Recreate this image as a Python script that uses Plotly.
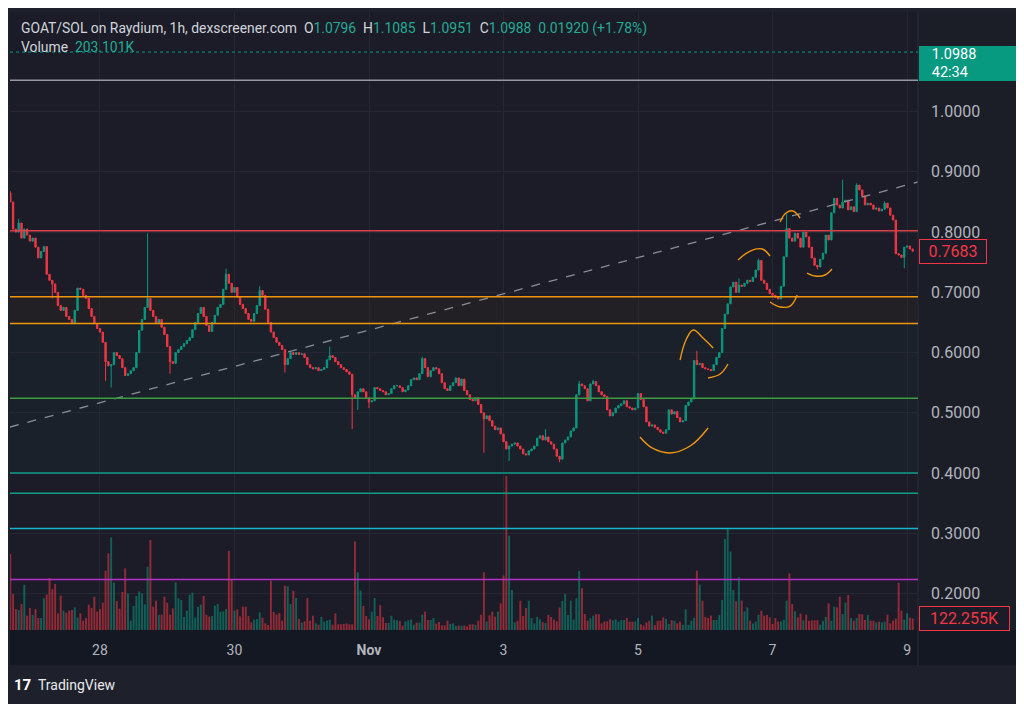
import pandas as pd
import plotly.graph_objects as go

# ---------------- data ----------------
START = "2024-10-26 16:00"
FIRST_OPEN = 0.865

closes = [
    0.850, 0.805, 0.800, 0.815, 0.790, 0.805, 0.795, 0.785, 0.790, 0.775,
    0.757, 0.768, 0.776, 0.730, 0.720, 0.714, 0.700, 0.678, 0.670, 0.675,
    0.660, 0.655, 0.648, 0.670, 0.707, 0.705, 0.695, 0.690, 0.673, 0.660,
    0.648, 0.640, 0.634, 0.617, 0.585, 0.578, 0.580, 0.600, 0.595, 0.590,
    0.575, 0.562, 0.565, 0.570, 0.575, 0.600, 0.637, 0.655, 0.675, 0.690,
    0.670, 0.660, 0.648, 0.655, 0.642, 0.630, 0.610, 0.585, 0.582, 0.600,
    0.605, 0.610, 0.615, 0.620, 0.625, 0.638, 0.650, 0.665, 0.675, 0.660,
    0.645, 0.635, 0.650, 0.662, 0.675, 0.680, 0.705, 0.730, 0.715, 0.700,
    0.708, 0.692, 0.680, 0.673, 0.665, 0.655, 0.652, 0.665, 0.678, 0.703,
    0.695, 0.672, 0.650, 0.634, 0.625, 0.617, 0.612, 0.605, 0.580, 0.590,
    0.600, 0.597, 0.600, 0.597, 0.598, 0.592, 0.580, 0.575, 0.573, 0.575,
    0.570, 0.572, 0.575, 0.588, 0.595, 0.592, 0.585, 0.580, 0.575, 0.572,
    0.568, 0.564, 0.530, 0.525, 0.535, 0.540, 0.535, 0.525, 0.518, 0.520,
    0.542, 0.540, 0.537, 0.535, 0.530, 0.532, 0.540, 0.545, 0.545, 0.542,
    0.535, 0.538, 0.545, 0.555, 0.558, 0.555, 0.565, 0.590, 0.575, 0.560,
    0.570, 0.575, 0.573, 0.565, 0.550, 0.540, 0.537, 0.545, 0.550, 0.558,
    0.545, 0.556, 0.537, 0.530, 0.522, 0.520, 0.525, 0.514, 0.500, 0.490,
    0.495, 0.487, 0.478, 0.472, 0.475, 0.465, 0.452, 0.440, 0.445, 0.448,
    0.450, 0.445, 0.440, 0.432, 0.430, 0.437, 0.440, 0.445, 0.458, 0.462,
    0.455, 0.460, 0.452, 0.448, 0.440, 0.428, 0.423, 0.450, 0.455, 0.460,
    0.470, 0.475, 0.530, 0.548, 0.545, 0.540, 0.520, 0.548, 0.552, 0.545,
    0.535, 0.530, 0.527, 0.505, 0.495, 0.500, 0.508, 0.512, 0.515, 0.520,
    0.510, 0.508, 0.505, 0.508, 0.532, 0.522, 0.510, 0.485, 0.478, 0.480,
    0.476, 0.472, 0.468, 0.466, 0.472, 0.505, 0.498, 0.502, 0.492, 0.485,
    0.487, 0.512, 0.518, 0.523, 0.587, 0.580, 0.582, 0.575, 0.573, 0.572,
    0.570, 0.580, 0.592, 0.600, 0.640, 0.664, 0.681, 0.709, 0.717, 0.700,
    0.712, 0.710, 0.715, 0.720, 0.718, 0.725, 0.737, 0.753, 0.720, 0.715,
    0.705, 0.698, 0.695, 0.692, 0.689, 0.710, 0.759, 0.806, 0.790, 0.785,
    0.798, 0.790, 0.775, 0.800, 0.792, 0.775, 0.757, 0.745, 0.742, 0.755,
    0.765, 0.795, 0.787, 0.832, 0.856, 0.845, 0.840, 0.850, 0.853, 0.837,
    0.842, 0.834, 0.878, 0.870, 0.860, 0.845, 0.848, 0.845, 0.838, 0.840,
    0.835, 0.838, 0.848, 0.840, 0.828, 0.820, 0.764, 0.762, 0.758, 0.775,
    0.777, 0.772, 0.7683,
]

# notable wicks (index -> value)
wick_highs = {0: 0.868, 3: 0.822, 49: 0.798, 77: 0.739, 89: 0.710, 114: 0.610,
              147: 0.593, 191: 0.473, 203: 0.553, 208: 0.555, 245: 0.603,
              260: 0.723, 267: 0.756, 277: 0.831, 297: 0.887, 302: 0.881, 312: 0.851}
wick_lows = {15: 0.690, 34: 0.553, 36: 0.542, 57: 0.565, 98: 0.567, 122: 0.473,
             124: 0.505, 128: 0.508, 169: 0.434, 178: 0.420, 196: 0.418,
             288: 0.738, 319: 0.740}

volumes_k = [
    798,
    378, 220, 210, 273, 476, 150, 231, 158, 220, 126,
    126, 333, 371, 546, 430, 483, 175, 361, 203, 182,
    203, 210, 238, 130, 175, 98, 126, 266, 231, 350,
    193, 220, 287, 623, 805, 973, 497, 305, 224, 399,
    648, 382, 98, 252, 357, 406, 382, 270, 665, 945,
    245, 308, 158, 161, 350, 287, 161, 228, 501, 333,
    315, 137, 203, 371, 392, 130, 242, 266, 357, 158,
    140, 147, 256, 273, 193, 196, 220, 830, 536, 203,
    217, 144, 245, 245, 147, 81, 109, 116, 186, 130,
    70, 53, 518, 189, 161, 179, 98, 466, 459, 273,
    413, 336, 116, 77, 91, 336, 98, 150, 70, 56,
    137, 88, 98, 109, 56, 175, 60, 60, 63, 70,
    60, 60, 928, 606, 413, 252, 147, 109, 193, 336,
    147, 263, 133, 74, 74, 150, 109, 102, 95, 46,
    91, 102, 109, 56, 77, 77, 161, 193, 105, 105,
    126, 67, 84, 49, 49, 98, 63, 70, 42, 46,
    46, 46, 39, 60, 60, 53, 98, 161, 606, 88,
    154, 193, 140, 193, 280, 571, 1617, 990,
    420, 80, 98, 308, 147, 231, 308, 126, 70, 137,
    112, 84, 74, 158, 137, 109, 91, 235, 305, 378,
    158, 308, 109, 333, 620, 438, 168, 98, 123, 151,
    165, 165, 70, 88, 91, 112, 102, 112, 88, 105,
    105, 126, 88, 88, 91, 126, 60, 46, 80, 98,
    151, 53, 98, 98, 133, 116, 63, 102, 98, 70,
    88, 53, 217, 53, 98, 126, 623, 476, 308, 137,
    126, 151, 105, 105, 158, 315, 956, 1061, 823, 420,
    301, 553, 308, 196, 238, 98, 67, 88, 161, 203,
    151, 158, 133, 63, 126, 88, 88, 109, 308, 595,
    273, 196, 133, 172, 102, 161, 98, 102, 102, 102,
    56, 98, 137, 280, 98, 245, 238, 350, 168, 287,
    368, 126, 98, 126, 168, 165, 105, 158, 98, 98,
    80, 88, 80, 88, 161, 70, 98, 119, 497, 203,
    109, 175, 130, 122.255,
]

price_ticks = [1.0, 0.9, 0.8, 0.7, 0.6, 0.5, 0.4, 0.3, 0.2]
day_ticks = ["2024-10-28", "2024-10-30", "2024-11-01", "2024-11-03",
             "2024-11-05", "2024-11-07", "2024-11-09"]
day_labels = ["28", "30", "<b>Nov</b>", "3", "5", "7", "9"]

level_prices = [1.0521, 0.8022, 0.6928, 0.6483, 0.5243, 0.4002, 0.3665, 0.3080, 0.2234]
level_colors = ["#9598a1", "#d8404c", "#f0960e", "#f0960e", "#3f9a44",
                "#0f9d86", "#0f9d86", "#14b4cc", "#b62fc8"]

# trend line (hour offset, price) and hand-drawn arcs (hour offset, price)
trend_pts = [(-0.1, 0.4765), (323.9, 0.8832)]
arcs = [
    [(224.7, 0.4598), (229.0, 0.4417), (235.4, 0.4334), (242.6, 0.4450), (249.0, 0.4749)],
    [(239.0, 0.5877), (241.1, 0.6209), (243.7, 0.6375), (247.2, 0.6242), (250.8, 0.6076)],
    [(249.0, 0.5579), (253.3, 0.5645), (256.1, 0.5811)],
    [(259.7, 0.7537), (264.0, 0.7686), (268.3, 0.7720), (271.1, 0.7603)],
    [(271.1, 0.6840), (274.7, 0.6757), (278.3, 0.6773), (280.8, 0.6956)],
    [(274.7, 0.8168), (276.8, 0.8317), (279.3, 0.8350), (281.8, 0.8234)],
    [(284.3, 0.7321), (287.2, 0.7271), (290.7, 0.7288), (293.2, 0.7387)],
]

header_pair = "GOAT/SOL on Raydium, 1h, dexscreener.com"
ohlc_header = [("O", "1.0796"), ("H", "1.1085"), ("L", "1.0951"), ("C", "1.0988")]
change_header = "0.01920 (+1.78%)"
volume_header = "203.101K"
last_price_label = "0.7683"
live_price = 1.0988
live_timer = "42:34"
last_volume_label = "122.255K"

# ---------------- styling ----------------
GREEN = "#089981"
RED = "#f23645"
TXT = "#d1d4dc"
AX = "#b2b5be"
PAPER = "#1e212b"
PLOT = "#1b1c27"
FONT = "Roboto, Liberation Sans, Arial, sans-serif"

# the page body has an 8px default margin; target plot rectangle in page pixels
OFF = 8
W, H = 1024, 704
PLOT_L, PLOT_R, PLOT_T, PLOT_B = 10, 918, 12, 630
ML, MT = PLOT_L - OFF, PLOT_T - OFF
MR, MB = W - (PLOT_R - OFF), H - (PLOT_B - OFF)
PW, PH = PLOT_R - PLOT_L, PLOT_B - PLOT_T
Y_RANGE = [0.1396, 1.1653]
VOL_PER_PX = 10.5

start = pd.Timestamp(START)
times = pd.date_range(start, periods=len(closes), freq="h")
opens = [FIRST_OPEN] + closes[:-1]
highs = [max(o, c) for o, c in zip(opens, closes)]
lows = [min(o, c) for o, c in zip(opens, closes)]
for k, v in wick_highs.items():
    highs[k] = max(highs[k], v)
for k, v in wick_lows.items():
    lows[k] = min(lows[k], v)

vol_colors = ["rgba(8,153,129,0.55)" if c >= o else "rgba(242,54,69,0.55)"
              for o, c in zip(opens, closes)]


def t(h):
    return start + pd.Timedelta(hours=h)


def px_x(x):
    return (x - PLOT_L) / PW


def px_y(y):
    return (PLOT_B - y) / PH


fig = go.Figure()

fig.add_trace(go.Bar(
    x=times, y=volumes_k, yaxis="y2", marker=dict(color=vol_colors, line=dict(width=0)),
    showlegend=False, hoverinfo="skip"))

fig.add_trace(go.Candlestick(
    x=times, open=opens, high=highs, low=lows, close=closes,
    increasing=dict(line=dict(color=GREEN, width=1), fillcolor=GREEN),
    decreasing=dict(line=dict(color=RED, width=1), fillcolor=RED),
    whiskerwidth=0, showlegend=False))

fig.add_trace(go.Scatter(
    x=[t(h) for h, _ in trend_pts], y=[p for _, p in trend_pts], mode="lines",
    line=dict(color="#8a8d96", width=1.3, dash="dash"), showlegend=False, hoverinfo="skip"))

for arc in arcs:
    fig.add_trace(go.Scatter(
        x=[t(h) for h, _ in arc], y=[p for _, p in arc], mode="lines",
        line=dict(color="#f0960e", width=1.4, shape="spline", smoothing=1.1),
        showlegend=False, hoverinfo="skip"))

shapes = []
# zone tints
shapes.append(dict(type="rect", xref="paper", yref="y", x0=0, x1=1,
                   y0=level_prices[3], y1=level_prices[2],
                   fillcolor="rgba(255,152,0,0.04)", line=dict(width=0), layer="below"))
shapes.append(dict(type="rect", xref="paper", yref="y", x0=0, x1=1,
                   y0=level_prices[5], y1=level_prices[3],
                   fillcolor="rgba(60,170,120,0.04)", line=dict(width=0), layer="below"))
# axis strips
shapes.append(dict(type="rect", xref="paper", yref="paper", x0=0, x1=px_x(1017),
                   y0=px_y(665), y1=0, fillcolor="#141822", line=dict(width=0), layer="below"))
shapes.append(dict(type="rect", xref="paper", yref="paper", x0=1, x1=px_x(1017),
                   y0=0, y1=1, fillcolor="#1b1d27", line=dict(width=0), layer="below"))
shapes.append(dict(type="line", xref="paper", yref="paper", x0=1, x1=1,
                   y0=px_y(665), y1=1, line=dict(color="#2a2e39", width=1)))
# levels
for p, c in zip(level_prices, level_colors):
    shapes.append(dict(type="line", xref="paper", yref="y", x0=0, x1=1, y0=p, y1=p,
                       line=dict(color=c, width=1.5)))
# live price dotted line
shapes.append(dict(type="line", xref="paper", yref="y", x0=0, x1=1, y0=live_price, y1=live_price,
                   line=dict(color=GREEN, width=1, dash="dot")))

teal_span = "<span style='color:#22ab94'>{}</span>"
ohlc_txt = "\u00a0\u00a0".join(f"{k}{teal_span.format(v)}" for k, v in ohlc_header)
line1 = f"{header_pair}\u00a0\u00a0{ohlc_txt}\u00a0\u00a0{teal_span.format(change_header)}"
line2 = f"Volume\u00a0\u00a0{teal_span.format(volume_header)}"
pad = "\u00a0\u00a0\u00a0"

annotations = [
    dict(text=line1, xref="paper", yref="paper", x=px_x(19), y=px_y(28),
         xanchor="left", yanchor="middle", showarrow=False,
         font=dict(family=FONT, size=13.9, color=TXT)),
    dict(text=line2, xref="paper", yref="paper", x=px_x(19), y=px_y(47),
         xanchor="left", yanchor="middle", showarrow=False,
         font=dict(family=FONT, size=13.9, color=TXT)),
    dict(text=last_price_label, xref="paper", yref="y", x=1, y=closes[-1], xshift=1,
         xanchor="left", yanchor="middle", showarrow=False, bgcolor=PLOT,
         bordercolor=RED, borderwidth=1, borderpad=2, width=62, align="center",
         font=dict(family=FONT, size=16, color=RED)),
    dict(text=f"{pad}{live_price:.4f}<br>{pad}{live_timer}", xref="paper", yref="paper", x=1,
         y=px_y(46), xshift=1, xanchor="left", yanchor="top", showarrow=False,
         bgcolor=GREEN, bordercolor=GREEN, borderwidth=1, borderpad=1, align="left",
         width=94, height=31, valign="middle",
         font=dict(family=FONT, size=14.5, color="#ffffff")),
    dict(text=last_volume_label, xref="paper", yref="y2", x=1, y=volumes_k[-1], xshift=1,
         xanchor="left", yanchor="middle", showarrow=False, bgcolor=PLOT,
         bordercolor=RED, borderwidth=1, borderpad=2, width=85, align="center",
         font=dict(family=FONT, size=16, color=RED)),
    dict(text="<b>17</b>", xref="paper", yref="paper", x=px_x(12), y=px_y(685),
         xanchor="left", yanchor="middle", showarrow=False,
         font=dict(family=FONT, size=15, color="#ffffff")),
    dict(text="TradingView", xref="paper", yref="paper", x=px_x(36), y=px_y(685),
         xanchor="left", yanchor="middle", showarrow=False,
         font=dict(family=FONT, size=14, color="#e8e9ee")),
]

x_range = [t(-0.1), t(323.9)]

fig.update_layout(
    width=W, height=H, margin=dict(l=ML, r=MR, t=MT, b=MB),
    paper_bgcolor=PAPER, plot_bgcolor=PLOT,
    font=dict(family=FONT, color=AX),
    shapes=shapes, annotations=annotations,
    bargap=0.3, boxgap=0.3, showlegend=False, hovermode=False,
    xaxis=dict(type="date", range=x_range, rangeslider=dict(visible=False),
               tickvals=day_ticks, ticktext=day_labels, showgrid=True, gridcolor="#252833",
               gridwidth=1, zeroline=False, showline=False, ticks="",
               ticklabelstandoff=10,
               tickfont=dict(family=FONT, size=14, color=AX), fixedrange=True),
    yaxis=dict(side="right", range=Y_RANGE, tickvals=price_ticks,
               ticktext=[f"{v:.4f}" for v in price_ticks], showgrid=True,
               gridcolor="#252833", zeroline=False, showline=False, ticks="",
               ticklabelstandoff=12, tickfont=dict(family=FONT, size=16, color=AX),
               fixedrange=True),
    yaxis2=dict(overlaying="y", range=[0, PH * VOL_PER_PX], visible=False, fixedrange=True),
)

fig.write_html("out.html")
